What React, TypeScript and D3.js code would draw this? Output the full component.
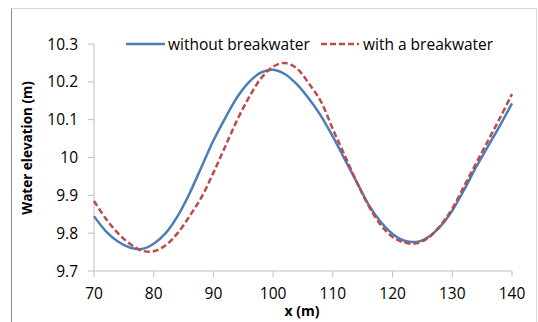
import React from "react";
import * as d3 from "d3";

// Water elevation along the channel, sampled every 2 m
const xValues = [
  70, 72, 74, 76, 78, 80, 82, 84, 86, 88, 90, 92, 94, 96, 98, 100, 102, 104,
  106, 108, 110, 112, 114, 116, 118, 120, 122, 124, 126, 128, 130, 132, 134,
  136, 138, 140,
];
const withoutBreakwater = [
  9.845, 9.805, 9.778, 9.762, 9.758, 9.772, 9.8, 9.845, 9.905, 9.975, 10.045,
  10.105, 10.16, 10.2, 10.225, 10.232, 10.22, 10.193, 10.155, 10.11, 10.055,
  9.995, 9.935, 9.875, 9.83, 9.798, 9.78, 9.777, 9.79, 9.818, 9.86, 9.915,
  9.975, 10.03, 10.085, 10.143,
];
const withBreakwater = [
  9.885, 9.838, 9.8, 9.772, 9.754, 9.752, 9.768, 9.8, 9.845, 9.895, 9.96,
  10.03, 10.1, 10.16, 10.21, 10.24, 10.25, 10.235, 10.195, 10.148, 10.075,
  10.005, 9.935, 9.872, 9.822, 9.79, 9.775, 9.773, 9.788, 9.82, 9.865, 9.925,
  9.985, 10.045, 10.105, 10.168,
];
const xTicks = [70, 80, 90, 100, 110, 120, 130, 140];
const yTicks = [9.7, 9.8, 9.9, 10, 10.1, 10.2, 10.3];
const seriesNames = ["without breakwater", "with a breakwater"];

const W = 538;
const H = 322;
const FONT = "'Open Sans', 'Noto Sans', sans-serif";
const BLUE = "#4a7ebb";
const RED = "#be4b48";
const AXIS = "#bfbfbf";
const LABEL_SIZE = 15.5;

export default function App() {
  const x = d3.scaleLinear().domain([70, 140]).range([94, 512]);
  const y = d3.scaleLinear().domain([9.7, 10.3]).range([271, 44]);

  const line = d3
    .line<number>()
    .x((_, i) => x(xValues[i]))
    .y((d) => y(d))
    .curve(d3.curveCatmullRom.alpha(0.5));

  const fmtY = (v: number) => (v === 10 ? "10" : d3.format(".1f")(v));

  return (
    <svg
      width={W}
      height={H}
      style={{ position: "absolute", left: 0, top: 0, background: "#fff" }}
      fontFamily={FONT}
    >
      {/* chart frame */}
      <rect x={11.5} y={8.5} width={525} height={330} fill="#fff" stroke="#d9d9d9" />
      <line x1={11.5} x2={11.5} y1={8.5} y2={H} stroke="#8c8c8c" />

      {/* axes */}
      <line x1={x(70)} x2={x(70)} y1={y(10.3)} y2={y(9.7)} stroke={AXIS} />
      <line x1={x(70)} x2={x(140)} y1={y(9.7)} y2={y(9.7)} stroke={AXIS} />
      {yTicks.map((t) => (
        <g key={t}>
          <line x1={x(70) - 6} x2={x(70)} y1={y(t)} y2={y(t)} stroke={AXIS} />
          <text x={78} y={y(t)} dy="0.36em" textAnchor="end" fontSize={LABEL_SIZE} fill="#000">
            {fmtY(t)}
          </text>
        </g>
      ))}
      {xTicks.map((t) => (
        <g key={t}>
          <line x1={x(t)} x2={x(t)} y1={y(9.7)} y2={y(9.7) + 6} stroke={AXIS} />
          <text x={x(t)} y={299} textAnchor="middle" fontSize={LABEL_SIZE} fill="#000">
            {t}
          </text>
        </g>
      ))}

      {/* axis titles */}
      <text x={302} y={316} textAnchor="middle" fontSize={14} fontWeight="bold">
        x (m)
      </text>
      <text
        transform={`translate(32,148) rotate(-90)`}
        textAnchor="middle"
        fontSize={13.5}
        fontWeight="bold"
      >
        Water elevation (m)
      </text>

      {/* series */}
      <path d={line(withoutBreakwater) ?? ""} fill="none" stroke={BLUE} strokeWidth={2.5} />
      <path
        d={line(withBreakwater) ?? ""}
        fill="none"
        stroke={RED}
        strokeWidth={2.5}
        strokeDasharray="6 3"
      />

      {/* legend */}
      <line x1={126} x2={165} y1={44} y2={44} stroke={BLUE} strokeWidth={2.5} />
      <text x={168} y={44} dy="0.36em" fontSize={LABEL_SIZE}>
        {seriesNames[0]}
      </text>
      <line x1={321} x2={359} y1={44} y2={44} stroke={RED} strokeWidth={2.5} strokeDasharray="6 3" />
      <text x={363} y={44} dy="0.36em" fontSize={LABEL_SIZE}>
        {seriesNames[1]}
      </text>
    </svg>
  );
}
